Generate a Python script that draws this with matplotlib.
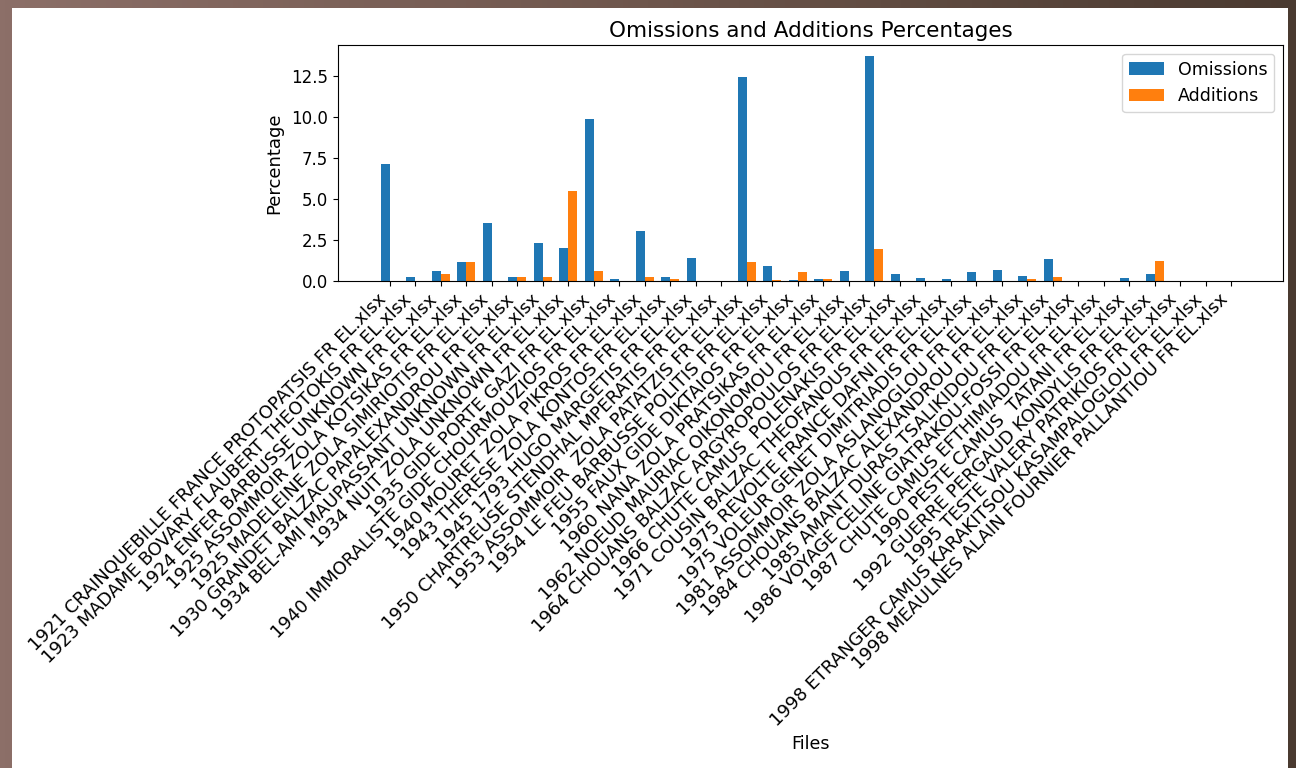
import matplotlib
matplotlib.use("Agg")
import matplotlib.pyplot as plt
import matplotlib.patches as mpatches
from matplotlib.colors import LinearSegmentedColormap
import numpy as np

files = [
    "1921 CRAINQUEBILLE FRANCE PROTOPATSIS FR EL.xlsx",
    "1923 MADAME BOVARY FLAUBERT THEOTOKIS FR EL.xlsx",
    "1924 ENFER BARBUSSE UNKNOWN FR EL.xlsx",
    "1925 ASSOMMOIR ZOLA KOTSIKAS FR EL.xlsx",
    "1925 MADELEINE ZOLA SIMIRIOTIS FR EL.xlsx",
    "1930 GRANDET BALZAC PAPALEXANDROU FR EL.xlsx",
    "1934 BEL-AMI MAUPASSANT UNKNOWN FR EL.xlsx",
    "1934 NUIT ZOLA UNKNOWN FR EL.xlsx",
    "1935 GIDE PORTE GAZI FR EL.xlsx",
    "1940 IMMORALISTE GIDE CHOURMOUZIOS FR EL.xlsx",
    "1940 MOURET ZOLA PIKROS FR EL.xlsx",
    "1943 THERESE ZOLA KONTOS FR EL.xlsx",
    "1945 1793 HUGO MARGETIS FR EL.xlsx",
    "1950 CHARTREUSE STENDHAL MPERATIS FR EL.xlsx",
    "1953 ASSOMMOIR  ZOLA PATATZIS FR EL.xlsx",
    "1954 LE FEU BARBUSSE POLITIS FR EL.xlsx",
    "1955 FAUX GIDE DIKTAIOS FR EL.xlsx",
    "1960 NANA ZOLA PRATSIKAS FR EL.xlsx",
    "1962 NOEUD MAURIAC OIKONOMOU FR EL.xlsx",
    "1964 CHOUANS BALZAC ARGYROPOULOS FR EL.xlsx",
    "1966 CHUTE CAMUS  POLENAKIS FR EL.xlsx",
    "1971 COUSIN BALZAC THEOFANOUS FR EL.xlsx",
    "1975 REVOLTE FRANCE DAFNI FR EL.xlsx",
    "1975 VOLEUR GENET DIMITRIADIS FR EL.xlsx",
    "1981 ASSOMMOIR ZOLA ASLANOGLOU FR EL.xlsx",
    "1984 CHOUANS BALZAC ALEXANDROU FR EL.xlsx",
    "1985 AMANT DURAS TSALIKIDOU FR EL.xlsx",
    "1986 VOYAGE CELINE GIATRAKOU-FOSSI FR EL.xlsx",
    "1987 CHUTE CAMUS EFTHIMIADOU FR EL.xlsx",
    "1990 PESTE CAMUS  TATANI FR EL.xlsx",
    "1992 GUERRE PERGAUD KONDYLIS FR EL.xlsx",
    "1995 TESTE VALERY PATRIKIOS FR EL.xlsx",
    "1998 ETRANGER CAMUS KARAKITSOU KASAMPALOGLOU FR EL.xlsx",
    "1998 MEAULNES ALAIN FOURNIER PALLANTIOU FR EL.xlsx",
]

omissions = [
    7.17, 0.27, 0.60, 1.17, 3.52, 0.27, 2.29, 2.04, 9.86, 0.10,
    3.06, 0.27, 1.40, 0.00, 12.43, 0.92, 0.08, 0.10, 0.58, 13.72,
    0.42, 0.19, 0.10, 0.52, 0.67, 0.33, 1.33, 0.00, 0.00, 0.19,
    0.42, 0.00, 0.00, 0.00,
]

additions = [
    0.00, 0.00, 0.42, 1.17, 0.00, 0.27, 0.27, 5.50, 0.60, 0.00,
    0.27, 0.10, 0.00, 0.00, 1.17, 0.08, 0.52, 0.10, 0.00, 1.96,
    0.00, 0.00, 0.00, 0.00, 0.00, 0.10, 0.27, 0.00, 0.00, 0.00,
    1.25, 0.00, 0.00, 0.00,
]

W, H = 1296, 768
fig = plt.figure(figsize=(W / 100, H / 100), dpi=100)

# brown frame behind the white sheet
bg = fig.add_axes([0, 0, 1, 1], zorder=-10)
grad = np.linspace(0, 1, 256)[None, :]
frame_cmap = LinearSegmentedColormap.from_list("frame", ["#8c6f68", "#6e564c", "#4a3a30"])
bg.imshow(grad, aspect="auto", cmap=frame_cmap, extent=[0, 1, 0, 1])
bg.add_patch(mpatches.Rectangle((12 / W, 0), (1288 - 12) / W, (H - 8) / H,
                                facecolor="white", edgecolor="none"))
bg.set_xlim(0, 1)
bg.set_ylim(0, 1)
bg.axis("off")

ax = fig.add_axes([338 / W, 1 - 281 / H, (1283 - 338) / W, (281 - 45) / H])
x = np.arange(len(files))
width = 0.35
ax.bar(x - width / 2, omissions, width, label="Omissions", color="#1f77b4")
ax.bar(x + width / 2, additions, width, label="Additions", color="#ff7f0e")

ax.set_title("Omissions and Additions Percentages", fontsize=15.5)
ax.set_ylabel("Percentage", fontsize=13, labelpad=6)
ax.set_xlabel("Files", fontsize=12.5)
ax.set_xticks(x)
ax.set_xticklabels(files, rotation=45, ha="right", fontsize=13)
ax.tick_params(axis="y", labelsize=12)
ax.legend(fontsize=12.5)

fig.savefig("out.png", dpi=100)
